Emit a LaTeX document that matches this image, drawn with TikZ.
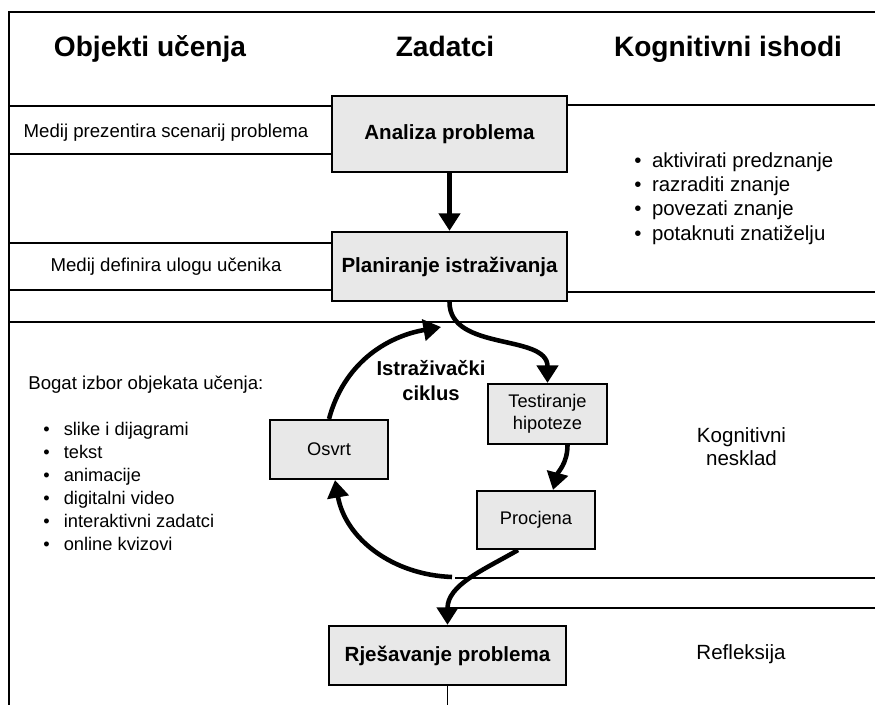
\documentclass[tikz,border=0pt]{standalone}
\usepackage{fontspec}
\setmainfont{Liberation Sans}
\usetikzlibrary{arrows.meta}
\definecolor{boxgray}{RGB}{232,232,232}

\begin{document}
\begin{tikzpicture}[x=0.02cm,y=0.02cm,
    rule/.style={line width=1pt},
    head/.style={anchor=base,font=\bfseries\fontsize{16}{19}\selectfont},
    task/.style={draw,line width=1.3pt,fill=boxgray,inner sep=0pt,minimum width=4.7cm,font=\bfseries\fontsize{11.7}{14}\selectfont},
    phase/.style={draw,line width=1.2pt,fill=boxgray,inner sep=0pt,minimum width=2.36cm,minimum height=1.18cm,align=center,font=\fontsize{10.4}{12.5}\selectfont},
    txt/.style={inner sep=0pt,font=\fontsize{10.6}{13.7}\selectfont},
    outcome/.style={inner sep=0pt,font=\fontsize{11.7}{12.8}\selectfont},
    flow/.style={line width=2.6pt,-{Triangle[width=12pt,length=10pt]}}]

\useasboundingbox (0,0) rectangle (875,705);

\node[head] (hobj) at (150,648) {Objekti učenja};
\node[head] (hzad) at (445,648) {Zadatci};
\node[head] (hkog) at (728,648) {Kognitivni ishodi};

\node[task,minimum height=1.52cm] (ana) at (449.5,571) {Analiza problema};
\node[task,minimum height=1.38cm] (plan) at (449.5,438.5) {Planiranje istraživanja};
\node[task,minimum width=4.74cm,minimum height=1.18cm] (solve) at (447.5,49.5) {Rješavanje problema};
\node[phase] (osvrt) at (329,255.5) {Osvrt};
\node[phase,minimum width=2.38cm,minimum height=1.2cm] (test) at (547.5,291) {Testiranje\\hipoteze};
\node[phase,minimum height=1.16cm] (proc) at (536,185) {Procjena};

\draw[rule] (875,693) -- (9,693) -- (9,0);
\draw[rule] (9,599) -- (ana.west |- 0,599);
\draw[rule] (9,551) -- (ana.west |- 0,551);
\draw[rule] (ana.east |- 0,600) -- (875,600);
\draw[rule] (9,462) -- (plan.west |- 0,462);
\draw[rule] (9,415) -- (plan.west |- 0,415);
\draw[rule] (plan.east |- 0,413) -- (875,413);
\draw[rule] (9,383) -- (875,383);
\draw[rule] (455,127) -- (875,127);
\draw[rule] (447,97) -- (875,97);
\draw[rule] (solve.south) -- (solve.south |- 0,0);

\node[txt,anchor=base] (medij1) at (166,567) {Medij prezentira scenarij problema};
\node[txt,anchor=base] (medij2) at (166,433) {Medij definira ulogu učenika};
\node[outcome,anchor=north west,align=left,font=\fontsize{11.6}{13.9}\selectfont] (ishodi) at (634,553)
  {\textbullet\hspace{6pt}aktivirati predznanje\\\textbullet\hspace{6pt}razraditi znanje\\
   \textbullet\hspace{6pt}povezati znanje\\\textbullet\hspace{6pt}potaknuti znatiželju};
\node[txt,anchor=base west] (bogat) at (28,315) {Bogat izbor objekata učenja:};
\node[txt,anchor=north west,align=left,font=\fontsize{10.4}{13.1}\selectfont] (objekti) at (43,283)
  {\textbullet\hspace{8pt}slike i dijagrami\\\textbullet\hspace{8pt}tekst\\\textbullet\hspace{8pt}animacije\\
   \textbullet\hspace{8pt}digitalni video\\\textbullet\hspace{8pt}interaktivni zadatci\\\textbullet\hspace{8pt}online kvizovi};
\node[txt,align=center,font=\bfseries\fontsize{11.5}{14.2}\selectfont] (ciklus) at (431,324) {Istraživački\\ciklus};
\node[outcome,align=center] (nesklad) at (741.5,258.5) {Kognitivni\\nesklad};
\node[outcome,anchor=base] (refl) at (741,45) {Refleksija};

\coordinate (cyctop) at (441,378);
\coordinate (cycbot) at (452,128);
\draw[flow] (ana) -- (plan);
\draw[flow] (plan.south) to[out=-90,in=90] (test.north);
\draw[flow] (osvrt.north) to[out=75,in=190] (cyctop);
\draw[flow] ([xshift=0.4cm]test.south) to[out=-90,in=75] ([xshift=0.34cm]proc.north);
\draw[flow] ([xshift=-0.36cm]proc.south) to[out=-150,in=90] (solve.north);
\draw[flow] (cycbot) to[out=178,in=-80] ([xshift=0.12cm]osvrt.south);
\end{tikzpicture}
\end{document}
